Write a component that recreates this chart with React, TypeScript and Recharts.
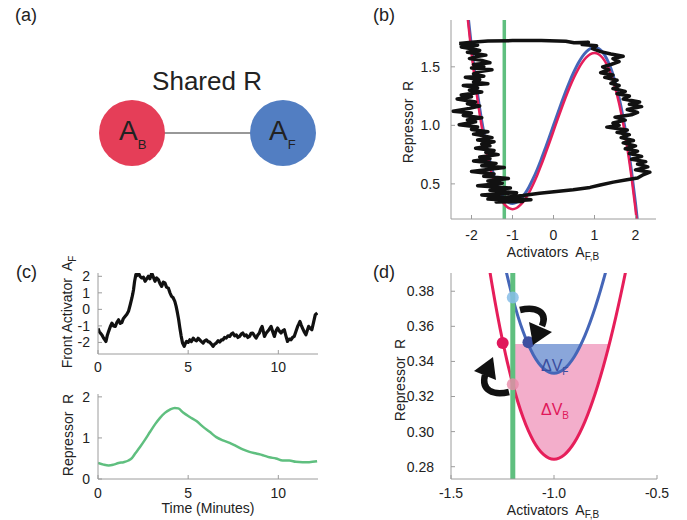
import React from 'react';
import { ComposedChart, Line, Area, XAxis, YAxis, ReferenceLine, ReferenceDot } from 'recharts';

const FONT = '"Liberation Sans", Arial, Helvetica, sans-serif';

// (b) nullclines, sampled along the activator axis
const nullA = [-2.2, -2.1, -2.0, -1.9, -1.8, -1.7, -1.6, -1.5, -1.4, -1.3, -1.2, -1.1, -1.0, -0.9, -0.8, -0.7, -0.6, -0.5, -0.4, -0.3, -0.2, -0.1, 0, 0.1, 0.2, 0.3, 0.4, 0.5, 0.6, 0.7, 0.8, 0.9, 1.0, 1.1, 1.2, 1.3, 1.4, 1.5, 1.6, 1.7, 1.8, 1.9, 2.0, 2.1];
const nullRed = [2.3, 1.938, 1.618, 1.337, 1.095, 0.889, 0.716, 0.576, 0.466, 0.383, 0.327, 0.295, 0.284, 0.294, 0.322, 0.365, 0.423, 0.493, 0.572, 0.66, 0.754, 0.851, 0.951, 1.051, 1.148, 1.242, 1.33, 1.409, 1.479, 1.537, 1.58, 1.608, 1.618, 1.607, 1.575, 1.519, 1.436, 1.326, 1.186, 1.013, 0.807, 0.565, 0.284, -0.036];
const nullBlue = [2.349, 1.987, 1.667, 1.386, 1.144, 0.938, 0.765, 0.625, 0.515, 0.432, 0.376, 0.344, 0.333, 0.343, 0.371, 0.414, 0.472, 0.542, 0.621, 0.709, 0.803, 0.9, 1.0, 1.1, 1.197, 1.291, 1.379, 1.458, 1.528, 1.586, 1.629, 1.657, 1.667, 1.656, 1.624, 1.568, 1.485, 1.375, 1.235, 1.062, 0.856, 0.614, 0.333, 0.013];
const fixedA = -1.2;

// (b) stochastic trajectory (A_F, R): left branch down, bottom jump, right branch up, top jump
const trajectory: [number, number][] = [
  [-2.3, 1.7], [-1.85, 1.685], [-2.25, 1.67], [-2.0, 1.655], [-1.8, 1.64], [-2.1, 1.625], [-1.65, 1.6], [-1.9, 1.585], [-2.05, 1.57], [-1.75, 1.555],
  [-1.55, 1.535], [-1.95, 1.52], [-1.7, 1.5], [-2.0, 1.49], [-1.5, 1.475], [-1.8, 1.46], [-1.95, 1.44], [-1.7, 1.42], [-2.15, 1.41], [-1.8, 1.39],
  [-1.95, 1.37], [-1.6, 1.355], [-2.2, 1.34], [-1.85, 1.32], [-2.05, 1.3], [-1.75, 1.285], [-2.25, 1.26], [-2.0, 1.245], [-2.35, 1.225], [-1.9, 1.2],
  [-2.1, 1.185], [-1.8, 1.165], [-2.05, 1.145], [-2.45, 1.12], [-2.0, 1.105], [-2.2, 1.085], [-1.75, 1.065], [-2.1, 1.045], [-1.9, 1.03], [-2.3, 1.005],
  [-1.85, 0.985], [-2.0, 0.965], [-1.6, 0.945], [-1.95, 0.925], [-1.7, 0.91], [-1.5, 0.895], [-1.85, 0.875], [-1.45, 0.86], [-1.75, 0.84], [-1.55, 0.825],
  [-1.9, 0.805], [-1.45, 0.785], [-1.65, 0.77], [-1.35, 0.75], [-1.8, 0.73], [-1.55, 0.715], [-1.95, 0.695], [-1.4, 0.675], [-1.75, 0.655], [-1.2, 0.64],
  [-1.55, 0.625], [-2.0, 0.605], [-1.45, 0.585], [-1.7, 0.565], [-1.1, 0.545], [-1.6, 0.525], [-1.25, 0.505], [-1.85, 0.485], [-1.05, 0.465], [-1.55, 0.445],
  [-0.9, 0.425], [-1.75, 0.405], [-1.0, 0.385], [-1.6, 0.37], [-0.75, 0.35], [-1.4, 0.345], [-0.55, 0.365], [-1.2, 0.385], [-0.75, 0.4],
  [-0.34, 0.42], [0.07, 0.435], [0.48, 0.45], [0.89, 0.47], [1.14, 0.49], [1.46, 0.515], [1.79, 0.535], [2.05, 0.55],
  [2.2, 0.58], [2.35, 0.6], [2.0, 0.62], [2.3, 0.645], [2.05, 0.67], [2.25, 0.69], [1.9, 0.71], [2.15, 0.735], [1.85, 0.76], [2.05, 0.78],
  [1.75, 0.8], [2.0, 0.825], [1.7, 0.85], [1.95, 0.87], [1.65, 0.895], [1.85, 0.92], [1.55, 0.94], [1.8, 0.96], [1.3, 0.985], [1.6, 1.0],
  [1.45, 1.02], [1.75, 1.045], [1.5, 1.07], [1.9, 1.09], [2.05, 1.11], [1.8, 1.135], [2.15, 1.16], [1.85, 1.18], [2.1, 1.2], [1.7, 1.225],
  [1.85, 1.25], [1.55, 1.27], [1.75, 1.29], [1.45, 1.315], [1.6, 1.34], [1.4, 1.36], [1.55, 1.385], [1.25, 1.41], [1.45, 1.43], [1.15, 1.45],
  [1.35, 1.475], [1.2, 1.5], [1.4, 1.52], [1.6, 1.545], [1.45, 1.57], [1.7, 1.59], [1.4, 1.61], [1.15, 1.63],
  [0.95, 1.655], [1.05, 1.68], [0.7, 1.69], [0.85, 1.71], [0.5, 1.705], [0.3, 1.718], [-0.3, 1.725], [-1.0, 1.724], [-1.6, 1.72], [-2.0, 1.71], [-2.3, 1.7],
];

// (c) front activator vs time (minutes)
const frontActivator: [number, number][] = [
  [0, -1.15], [0.07, -1.35], [0.13, -1.43], [0.22, -1.55], [0.31, -1.74], [0.38, -1.85], [0.44, -1.94], [0.51, -1.6], [0.59, -1.33], [0.68, -1.05],
  [0.77, -0.83], [0.86, -1.0], [0.96, -1.03], [1.05, -0.78], [1.14, -0.63], [1.23, -0.85], [1.32, -0.8], [1.41, -0.55], [1.51, -0.42], [1.6, -0.3],
  [1.69, -0.12], [1.78, 0.25], [1.88, 0.69], [1.93, 0.95], [1.97, 1.19], [2.03, 1.7], [2.1, 2.1], [2.17, 2.05], [2.24, 2.2], [2.33, 2.0],
  [2.43, 1.9], [2.52, 1.95], [2.61, 1.7], [2.7, 1.85], [2.79, 2.0], [2.88, 1.85], [2.98, 2.2], [3.07, 1.95], [3.16, 1.7], [3.25, 1.9],
  [3.35, 1.8], [3.44, 1.55], [3.53, 1.39], [3.62, 1.65], [3.71, 1.6], [3.8, 1.35], [3.9, 1.29], [3.99, 1.0], [4.08, 0.79], [4.17, 0.7],
  [4.26, 0.48], [4.33, 0.2], [4.39, -0.12], [4.47, -0.6], [4.54, -1.13], [4.61, -1.6], [4.69, -2.04], [4.78, -2.24], [4.85, -2.05], [4.91, -1.94],
  [5.0, -2.0], [5.09, -1.84], [5.18, -1.95], [5.28, -1.74], [5.37, -1.85], [5.46, -1.9], [5.55, -1.75], [5.64, -1.84], [5.74, -1.95], [5.83, -2.04],
  [5.92, -1.9], [6.01, -1.84], [6.1, -1.95], [6.19, -1.98], [6.29, -2.1], [6.38, -2.24], [6.47, -2.1], [6.56, -2.04], [6.66, -1.9], [6.75, -1.98],
  [6.84, -1.85], [6.93, -1.84], [7.02, -1.7], [7.11, -1.74], [7.21, -1.6], [7.3, -1.64], [7.39, -1.5], [7.48, -1.43], [7.58, -1.6], [7.67, -1.54],
  [7.76, -1.7], [7.85, -1.64], [7.94, -1.5], [8.03, -1.43], [8.13, -1.6], [8.22, -1.54], [8.31, -1.7], [8.4, -1.64], [8.49, -1.45], [8.58, -1.43],
  [8.68, -1.6], [8.77, -1.74], [8.86, -1.55], [8.95, -1.43], [9.02, -1.2], [9.1, -1.03], [9.17, -1.35], [9.23, -1.64], [9.32, -1.45], [9.41, -1.33],
  [9.5, -1.2], [9.6, -1.03], [9.69, -1.35], [9.78, -1.64], [9.87, -1.3], [9.96, -1.13], [10.05, -1.3], [10.15, -1.43], [10.24, -1.3], [10.33, -1.23],
  [10.42, -1.6], [10.51, -1.94], [10.6, -1.8], [10.7, -1.84], [10.79, -1.7], [10.88, -1.64], [10.97, -1.35], [11.07, -1.03], [11.13, -0.9], [11.2, -0.73],
  [11.27, -0.95], [11.34, -1.13], [11.43, -1.35], [11.53, -1.54], [11.6, -1.3], [11.68, -1.03], [11.77, -1.15], [11.86, -1.23], [11.95, -0.8], [12.05, -0.32],
  [12.16, -0.22],
];

// (c) repressor vs time
const repTime = [0, 0.31, 0.59, 0.86, 1.14, 1.42, 1.69, 1.88, 2.06, 2.33, 2.61, 2.89, 3.16, 3.44, 3.71, 3.99, 4.26, 4.45, 4.72, 5.09, 5.46, 5.83, 6.19, 6.56, 6.93, 7.3, 7.67, 8.03, 8.4, 8.77, 9.14, 9.5, 9.87, 10.24, 10.61, 10.97, 11.34, 11.71, 12.15];
const repValue = [0.39, 0.35, 0.33, 0.35, 0.39, 0.41, 0.45, 0.51, 0.62, 0.78, 0.96, 1.15, 1.33, 1.49, 1.61, 1.69, 1.73, 1.72, 1.62, 1.51, 1.41, 1.27, 1.15, 1.02, 0.94, 0.88, 0.8, 0.72, 0.66, 0.62, 0.58, 0.53, 0.5, 0.45, 0.45, 0.42, 0.41, 0.41, 0.43];

// (d) zoom on the nullcline minima
const zoomA = [-1.4, -1.35, -1.3, -1.25, -1.2, -1.15, -1.1, -1.05, -1.0, -0.95, -0.9, -0.85, -0.8, -0.75, -0.7, -0.65, -0.6, -0.55];
const zoomRed = [0.4657, 0.4211, 0.3833, 0.352, 0.327, 0.308, 0.2947, 0.2869, 0.2843, 0.2868, 0.294, 0.3057, 0.3217, 0.3416, 0.3653, 0.3925, 0.423, 0.4565];
const zoomBlue = [0.5147, 0.4701, 0.4323, 0.401, 0.376, 0.357, 0.3437, 0.3359, 0.3333, 0.3358, 0.343, 0.3547, 0.3707, 0.3906, 0.4143, 0.4415, 0.472, 0.5055];
const dvLevel = 0.35;
const bandBA = [-1.2, -1.15, -1.1, -1.05, -1.0, -0.95, -0.9, -0.85, -0.8, -0.75, -0.731];
const bandBLow = [0.327, 0.308, 0.2947, 0.2869, 0.2843, 0.2868, 0.294, 0.3057, 0.3217, 0.3416, 0.35];
const bandFA = [-1.128, -1.1, -1.05, -1.0, -0.95, -0.9, -0.871];
const bandFLow = [0.35, 0.3437, 0.3359, 0.3333, 0.3358, 0.343, 0.35];
const stateA = [-1.2, -1.124, -1.249, -1.2];
const stateR = [0.3765, 0.351, 0.3505, 0.327];

const RED = '#e61e5a';
const BLUE = '#4566b8';
const GREEN = '#5fbf7f';
const AXIS = '#9c9c9c';
const tickStyle = { fill: '#222', fontSize: 14, fontFamily: FONT };
const stateColors = ['#86bde8', '#3e4fa0', '#e0185c', '#e889a8'];
const stateOpacity = [0.85, 1, 1, 0.8];

const pts = (xs: number[], ys: number[]) => xs.map((a, i) => ({ a, r: ys[i] }));
const blank = () => '';

export default function App() {
  const redB = pts(nullA, nullRed);
  const blueB = pts(nullA, nullBlue);
  const traj = trajectory.map(([a, r]) => ({ a, r }));
  const front = frontActivator.map(([t, v]) => ({ t, v }));
  const rep = repTime.map((t, i) => ({ t, v: repValue[i] }));
  const redD = pts(zoomA, zoomRed);
  const blueD = pts(zoomA, zoomBlue);
  const bandB = bandBA.map((a, i) => ({ a, band: [bandBLow[i], dvLevel] }));
  const bandF = bandFA.map((a, i) => ({ a, band: [bandFLow[i], dvLevel] }));

  const lbl = { fontSize: 14, fill: '#222', fontFamily: FONT, whiteSpace: 'pre' as const };

  return (
    <div style={{ position: 'absolute', left: 0, top: 0, width: 687, height: 520, background: '#fff', fontFamily: FONT }}>
      {/* (b) phase plane */}
      <div style={{ position: 'absolute', left: 340, top: 0 }}>
        <ComposedChart width={330} height={260} margin={{ top: 20, right: 14, bottom: 0, left: 0 }}>
          <XAxis dataKey="a" type="number" domain={[-2.5, 2.5]} ticks={[-2, -1, 0, 1, 2]} interval={0} allowDataOverflow height={41} stroke={AXIS} tickSize={-4} tickMargin={15} tick={tickStyle} />
          <XAxis xAxisId="top" orientation="top" dataKey="a" type="number" domain={[-2.5, 2.5]} ticks={[-2, -1, 0, 1, 2]} interval={0} height={0} stroke={AXIS} tickSize={-4} tickFormatter={blank} />
          <YAxis type="number" domain={[0.2, 1.9]} ticks={[0.5, 1, 1.5]} interval={0} allowDataOverflow width={111} stroke={AXIS} tickSize={-4} tickMargin={15} tick={tickStyle} tickFormatter={(v: number) => v.toFixed(1)} />
          <YAxis yAxisId="right" orientation="right" type="number" domain={[0.2, 1.9]} ticks={[0.5, 1, 1.5]} interval={0} width={0} stroke={AXIS} tickSize={-4} tickFormatter={blank} />
          <ReferenceLine x={fixedA} stroke={GREEN} strokeWidth={3.5} />
          <Line data={blueB} dataKey="r" type="monotone" stroke={BLUE} strokeWidth={3} dot={false} isAnimationActive={false} />
          <Line data={redB} dataKey="r" type="monotone" stroke={RED} strokeWidth={2.5} dot={false} isAnimationActive={false} />
          <Line data={traj} dataKey="r" type="linear" stroke="#111" strokeWidth={3.5} strokeLinejoin="round" dot={false} isAnimationActive={false} />
        </ComposedChart>
      </div>

      {/* (c) top: front activator */}
      <div style={{ position: 'absolute', left: 0, top: 250 }}>
        <ComposedChart width={330} height={130} margin={{ top: 23, right: 12, bottom: 0, left: 0 }}>
          <XAxis dataKey="t" type="number" domain={[0, 12.2]} ticks={[0, 5, 10]} interval={0} allowDataOverflow height={26} stroke={AXIS} tickSize={-4} tickMargin={12} tick={tickStyle} />
          <XAxis xAxisId="top" orientation="top" dataKey="t" type="number" domain={[0, 12.2]} ticks={[0, 5, 10]} interval={0} height={0} stroke={AXIS} tickSize={-4} tickFormatter={blank} />
          <YAxis type="number" domain={[-2.7, 2.2]} ticks={[-2, -1, 0, 1, 2]} interval={0} allowDataOverflow width={98} stroke={AXIS} tickSize={-4} tickMargin={12} tick={tickStyle} />
          <YAxis yAxisId="right" orientation="right" type="number" domain={[-2.7, 2.2]} ticks={[-2, -1, 0, 1, 2]} interval={0} width={0} stroke={AXIS} tickSize={-4} tickFormatter={blank} />
          <Line data={front} dataKey="v" type="linear" stroke="#111" strokeWidth={3.2} strokeLinejoin="round" dot={false} isAnimationActive={false} />
        </ComposedChart>
      </div>

      {/* (c) bottom: repressor */}
      <div style={{ position: 'absolute', left: 0, top: 380 }}>
        <ComposedChart width={330} height={130} margin={{ top: 14, right: 12, bottom: 0, left: 0 }}>
          <XAxis dataKey="t" type="number" domain={[0, 12.2]} ticks={[0, 5, 10]} interval={0} allowDataOverflow height={31} stroke={AXIS} tickSize={-4} tickMargin={13} tick={tickStyle} />
          <XAxis xAxisId="top" orientation="top" dataKey="t" type="number" domain={[0, 12.2]} ticks={[0, 5, 10]} interval={0} height={0} stroke={AXIS} tickSize={-4} tickFormatter={blank} />
          <YAxis type="number" domain={[0, 2.07]} ticks={[0, 1, 2]} interval={0} allowDataOverflow width={98} stroke={AXIS} tickSize={-4} tickMargin={12} tick={tickStyle} />
          <YAxis yAxisId="right" orientation="right" type="number" domain={[0, 2.07]} ticks={[0, 1, 2]} interval={0} width={0} stroke={AXIS} tickSize={-4} tickFormatter={blank} />
          <Line data={rep} dataKey="v" type="monotone" stroke={GREEN} strokeWidth={2.5} dot={false} isAnimationActive={false} />
        </ComposedChart>
      </div>

      {/* (d) zoom */}
      <div style={{ position: 'absolute', left: 340, top: 250 }}>
        <ComposedChart width={330} height={270} margin={{ top: 23, right: 13, bottom: 0, left: 0 }}>
          <XAxis dataKey="a" type="number" domain={[-1.5, -0.5]} ticks={[-1.5, -1.0, -0.5]} interval={0} allowDataOverflow height={41} stroke={AXIS} tickSize={-4} tickMargin={13} tick={tickStyle} tickFormatter={(v: number) => v.toFixed(1)} />
          <XAxis xAxisId="top" orientation="top" dataKey="a" type="number" domain={[-1.5, -0.5]} ticks={[-1.5, -1.0, -0.5]} interval={0} height={0} stroke={AXIS} tickSize={-4} tickFormatter={blank} />
          <YAxis type="number" domain={[0.273, 0.3904]} ticks={[0.28, 0.3, 0.32, 0.34, 0.36, 0.38]} interval={0} allowDataOverflow width={111} stroke={AXIS} tickSize={-4} tickMargin={21} tick={tickStyle} tickFormatter={(v: number) => v.toFixed(2)} />
          <YAxis yAxisId="right" orientation="right" type="number" domain={[0.273, 0.3904]} ticks={[0.28, 0.3, 0.32, 0.34, 0.36, 0.38]} interval={0} width={0} stroke={AXIS} tickSize={-4} tickFormatter={blank} />
          <Area data={bandB} dataKey="band" type="monotone" fill="#f3aecb" fillOpacity={1} stroke="none" isAnimationActive={false} />
          <Area data={bandF} dataKey="band" type="monotone" fill="#8aa6da" fillOpacity={1} stroke="none" isAnimationActive={false} />
          <Line data={redD} dataKey="r" type="monotone" stroke={RED} strokeWidth={3} dot={false} isAnimationActive={false} />
          <Line data={blueD} dataKey="r" type="monotone" stroke={BLUE} strokeWidth={3} dot={false} isAnimationActive={false} />
          <ReferenceLine x={fixedA} stroke={GREEN} strokeWidth={5} />
          {stateA.map((a, i) => (
            <ReferenceDot key={i} x={a} y={stateR[i]} r={6} fill={stateColors[i]} fillOpacity={stateOpacity[i]} stroke="none" />
          ))}
        </ComposedChart>
      </div>

      {/* text, diagram and annotations */}
      <svg width={687} height={520} style={{ position: 'absolute', left: 0, top: 0, pointerEvents: 'none' }}>
        <g fontFamily={FONT} fill="#222">
          <text x={15} y={21} fontSize={18}>(a)</text>
          <text x={373} y={21} fontSize={18}>(b)</text>
          <text x={16} y={278} fontSize={18}>(c)</text>
          <text x={373} y={278} fontSize={18}>(d)</text>
        </g>

        {/* (a) */}
        <line x1={160} y1={133} x2={255} y2={133} stroke="#333" strokeWidth={1.2} />
        <circle cx={132} cy={133} r={33} fill="#e53e58" />
        <circle cx={283} cy={133} r={33} fill="#527ec2" />
        <text x={207} y={90} fontSize={26} textAnchor="middle" fill="#222" fontFamily={FONT}>Shared R</text>
        <text x={119} y={140} fontSize={28} fill="#222" fontFamily={FONT}>A<tspan fontSize={13} dy={9}>B</tspan></text>
        <text x={269} y={140} fontSize={28} fill="#222" fontFamily={FONT}>A<tspan fontSize={13} dy={9}>F</tspan></text>

        {/* axis titles */}
        <text x={553} y={257} textAnchor="middle" style={lbl}>Activators  A<tspan fontSize={10} dy={3}>F,B</tspan></text>
        <text transform="translate(413,122) rotate(-90)" textAnchor="middle" style={lbl}>Repressor  R</text>
        <text transform="translate(72,312) rotate(-90)" textAnchor="middle" style={lbl}>Front Activator  A<tspan fontSize={10} dy={4}>F</tspan></text>
        <text transform="translate(73,435) rotate(-90)" textAnchor="middle" style={lbl}>Repressor  R</text>
        <text x={208} y={513} textAnchor="middle" style={lbl}>Time (Minutes)</text>
        <text transform="translate(405,380) rotate(-90)" textAnchor="middle" style={lbl}>Repressor  R</text>
        <text x={553} y={515} textAnchor="middle" style={lbl}>Activators  A<tspan fontSize={10} dy={3}>F,B</tspan></text>

        {/* (d) annotations */}
        <text x={541} y={371} fontSize={16} fill="#3a4d9e" fontFamily={FONT}>ΔV<tspan fontSize={10} dy={4}>F</tspan></text>
        <text x={541} y={415} fontSize={16} fill="#e0185a" fontFamily={FONT}>ΔV<tspan fontSize={10} dy={4}>B</tspan></text>
        <path d="M 520 310 C 536 306, 548 312, 542 326" stroke="#111" strokeWidth={6.5} fill="none" />
        <polygon points="529,322 552,332 533,345" fill="#111" />
        <path d="M 509 392 C 493 396, 481 390, 485 375" stroke="#111" strokeWidth={6.5} fill="none" />
        <polygon points="474,371 496,380 493,357" fill="#111" />
      </svg>
    </div>
  );
}
